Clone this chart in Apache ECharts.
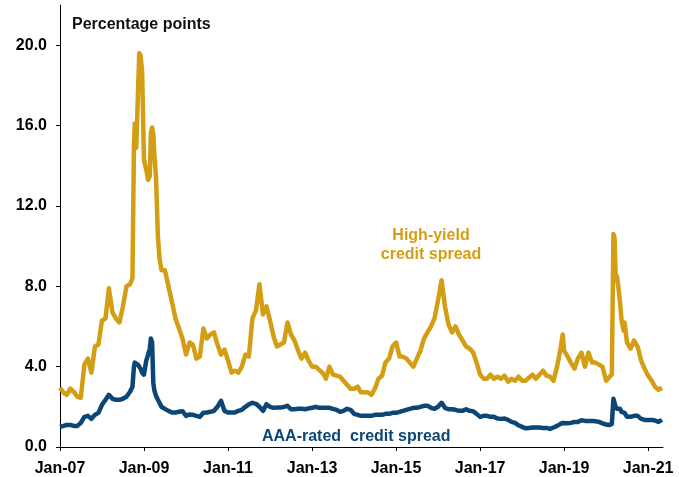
<!DOCTYPE html>
<html><head><meta charset="utf-8">
<script src="https://cdn.jsdelivr.net/npm/echarts@6/dist/echarts.min.js"></script>
<style>html,body{margin:0;padding:0;background:#fff}#c{width:679px;height:477px}</style>
</head><body><div id="c"></div>
<script>
// ---- data ----
const dates = [
  '2007-01','2007-02','2007-03','2007-04','2007-05','2007-06','2007-07','2007-08','2007-09','2007-10','2007-11','2007-12',
  '2008-01','2008-02','2008-03','2008-04','2008-05','2008-06','2008-07','2008-08','2008-09','2008-09-22','2008-10-05','2008-10-12','2008-10-25','2008-11-08','2008-11-20','2008-12-01','2008-12-15','2008-12-31',
  '2009-01-20','2009-02-05','2009-02-20','2009-03-01','2009-03-12','2009-03-22','2009-04-01','2009-04-15','2009-05-01','2009-05-15','2009-06','2009-07','2009-08','2009-09','2009-10','2009-11','2009-12',
  '2010-01','2010-02','2010-03','2010-04','2010-05','2010-06','2010-07','2010-08','2010-09','2010-10','2010-11','2010-12',
  '2011-01','2011-02','2011-03','2011-04','2011-05','2011-06','2011-07','2011-08','2011-09','2011-10','2011-11','2011-12',
  '2012-01','2012-02','2012-03','2012-04','2012-05','2012-06','2012-07','2012-08','2012-09','2012-10','2012-11','2012-12',
  '2013-01','2013-02','2013-03','2013-04','2013-05','2013-06','2013-07','2013-08','2013-09','2013-10','2013-11','2013-12',
  '2014-01','2014-02','2014-03','2014-04','2014-05','2014-06','2014-07','2014-08','2014-09','2014-10','2014-11','2014-12',
  '2015-01','2015-02','2015-03','2015-04','2015-05','2015-06','2015-07','2015-08','2015-09','2015-10','2015-11','2015-12',
  '2016-01','2016-02','2016-03','2016-04','2016-05','2016-06','2016-07','2016-08','2016-09','2016-10','2016-11','2016-12',
  '2017-01','2017-02','2017-03','2017-04','2017-05','2017-06','2017-07','2017-08','2017-09','2017-10','2017-11','2017-12',
  '2018-01','2018-02','2018-03','2018-04','2018-05','2018-06','2018-07','2018-08','2018-09','2018-10','2018-11','2018-12','2018-12-20',
  '2019-01','2019-02','2019-03','2019-04','2019-05','2019-06','2019-07','2019-08','2019-09','2019-10','2019-11','2019-12',
  '2020-01','2020-02','2020-02-20','2020-03-05','2020-03-15','2020-03-25','2020-04-05','2020-04-20','2020-05','2020-05-15','2020-06','2020-06-10','2020-07','2020-08','2020-09','2020-10','2020-11','2020-12',
  '2021-01','2021-02','2021-03','2021-04','2021-05'
];
const highYield = [
  2.95,2.7,2.6,2.9,2.75,2.5,2.45,4.1,4.4,3.7,5.0,5.1,
  6.3,6.4,7.9,6.7,6.4,6.2,7.0,8.0,8.1,8.4,15.0,16.1,14.9,14.9,19.6,19.5,18.7,14.3,
  13.8,13.3,13.5,15.6,15.9,15.6,14.5,13.4,10.5,9.4,8.8,8.8,8.0,7.2,6.4,5.9,5.4,
  4.6,5.2,5.1,4.4,4.5,5.9,5.4,5.6,5.7,5.1,4.6,4.85,
  4.3,3.7,3.8,3.7,4.0,4.6,4.5,6.4,6.8,8.1,6.6,7.0,
  6.3,5.5,5.0,5.1,5.2,6.2,5.6,5.3,4.8,4.4,4.7,4.3,
  4.0,4.0,3.85,3.7,3.4,4.0,3.6,3.55,3.5,3.3,3.1,2.9,
  2.9,3.0,2.72,2.72,2.72,2.6,2.9,3.4,3.55,4.2,4.4,5.0,
  5.2,4.5,4.5,4.4,4.2,4.0,4.4,4.8,5.4,5.7,6.0,6.4,
  7.3,8.3,7.0,6.1,5.7,6.0,5.6,5.3,5.0,4.9,4.7,4.2,
  3.6,3.4,3.4,3.6,3.4,3.5,3.4,3.55,3.25,3.4,3.3,3.5,
  3.3,3.3,3.45,3.6,3.4,3.6,3.8,3.55,3.5,3.3,4.0,4.9,5.6,
  4.8,4.5,4.2,3.9,4.4,4.7,4.0,4.7,4.2,4.2,4.1,4.0,
  3.3,3.5,3.6,10.6,10.4,8.3,8.5,7.8,7.2,6.3,5.8,6.2,5.2,4.9,5.3,5.0,4.3,3.9,
  3.55,3.3,3.0,2.85,2.95
];
const aaaRated = [
  1.0,1.05,1.1,1.1,1.05,1.05,1.2,1.5,1.55,1.4,1.6,1.7,
  2.1,2.35,2.6,2.4,2.35,2.35,2.4,2.5,2.75,3.0,4.0,4.2,4.2,4.1,4.0,3.9,3.7,3.6,
  4.3,4.6,4.9,5.4,5.2,3.2,2.8,2.55,2.35,2.2,2.0,1.9,1.8,1.72,1.72,1.75,1.78,
  1.55,1.62,1.6,1.55,1.5,1.7,1.72,1.75,1.8,2.0,2.3,1.8,
  1.72,1.72,1.72,1.8,1.85,2.0,2.12,2.2,2.15,2.0,1.8,2.13,
  2.0,1.95,1.96,1.96,2.0,2.05,1.88,1.88,1.9,1.9,1.88,1.92,
  1.95,2.0,1.95,1.95,1.95,1.95,1.9,1.85,1.75,1.8,1.9,1.85,
  1.65,1.6,1.55,1.55,1.55,1.55,1.6,1.6,1.6,1.65,1.65,1.7,
  1.7,1.75,1.8,1.85,1.9,1.95,1.95,2.0,2.05,2.05,1.95,1.9,
  2.0,2.2,1.95,1.88,1.88,1.85,1.8,1.8,1.88,1.8,1.78,1.65,
  1.5,1.55,1.55,1.5,1.5,1.42,1.4,1.42,1.35,1.25,1.2,1.08,
  1.0,0.93,0.95,0.97,0.97,0.97,0.95,0.95,0.9,0.97,1.05,1.15,1.2,
  1.22,1.18,1.2,1.25,1.25,1.33,1.3,1.3,1.3,1.28,1.25,1.18,
  1.12,1.1,1.15,2.4,2.2,2.0,1.9,1.95,1.9,1.75,1.7,1.7,1.5,1.5,1.55,1.55,1.4,1.35,
  1.35,1.35,1.32,1.25,1.35
];
const tickDates = ['2007-01-01','2009-01-01','2011-01-01','2013-01-01','2015-01-01','2017-01-01','2019-01-01','2021-01-01'];
const tickLabels = ['Jan-07','Jan-09','Jan-11','Jan-13','Jan-15','Jan-17','Jan-19','Jan-21'];
const yTicks = [0, 4, 8, 12, 16, 20];

const GOLD = '#D49E14';
const NAVY = '#0B4676';
const FONT = "'Liberation Sans', Arial, sans-serif";

function toTime(s) {
  const p = s.split('-');
  return Date.UTC(+p[0], +p[1] - 1, p[2] ? +p[2] : 1);
}
const tickTimes = tickDates.map(toTime);

const chart = echarts.init(document.getElementById('c'), null, {renderer: 'canvas'});
const hyData = dates.map((d, i) => [toTime(d), highYield[i]]);
const aaaData = dates.map((d, i) => [toTime(d), aaaRated[i]]);

chart.setOption({
  animation: false,
  backgroundColor: '#fff',
  grid: {left: 60, right: 16, top: 5, bottom: 29, containLabel: false},
  xAxis: {
    type: 'value',
    min: toTime('2007-01-01'),
    max: toTime('2021-05-10'),
    axisLine: {show: true, lineStyle: {color: '#000', width: 1}},
    axisTick: {show: true, length: 4, lineStyle: {color: '#000'}, customValues: tickTimes},
    minorTick: {show: false},
    splitLine: {show: false},
    axisLabel: {
      customValues: tickTimes,
      margin: 14,
      color: '#000', fontWeight: 'bold', fontSize: 16, fontFamily: FONT,
      hideOverlap: false,
      formatter: function (v) { const i = tickTimes.indexOf(v); return i >= 0 ? tickLabels[i] : ''; }
    }
  },
  yAxis: {
    type: 'value', min: 0, max: 22,
    axisLine: {show: true, lineStyle: {color: '#000', width: 1}},
    axisTick: {show: true, length: 4, lineStyle: {color: '#000'}, customValues: yTicks},
    splitLine: {show: false},
    axisLabel: {
      customValues: yTicks, margin: 13,
      color: '#000', fontWeight: 'bold', fontSize: 16, fontFamily: FONT,
      formatter: v => v.toFixed(1)
    }
  },
  series: [
    {type: 'line', data: aaaData, showSymbol: false, symbol: 'none',
     lineStyle: {color: NAVY, width: 4.5, join: 'round'}},
    {type: 'line', data: hyData, showSymbol: false, symbol: 'none',
     lineStyle: {color: GOLD, width: 4.5, join: 'round'}}
  ],
  graphic: [
    {type: 'text', x: 72, y: 25, style: {text: 'Percentage points', font: 'bold 16px ' + FONT, fill: '#111', verticalAlign: 'middle', align: 'left'}},
    {type: 'text', x: 431, y: 236, style: {text: 'High-yield', font: 'bold 16px ' + FONT, fill: GOLD, verticalAlign: 'middle', align: 'center'}},
    {type: 'text', x: 431, y: 254.5, style: {text: 'credit spread', font: 'bold 16px ' + FONT, fill: GOLD, verticalAlign: 'middle', align: 'center'}},
    {type: 'text', x: 262, y: 437, style: {text: 'AAA-rated  credit spread', font: 'bold 16px ' + FONT, fill: NAVY, verticalAlign: 'middle', align: 'left'}}
  ]
});
</script>
</body></html>
